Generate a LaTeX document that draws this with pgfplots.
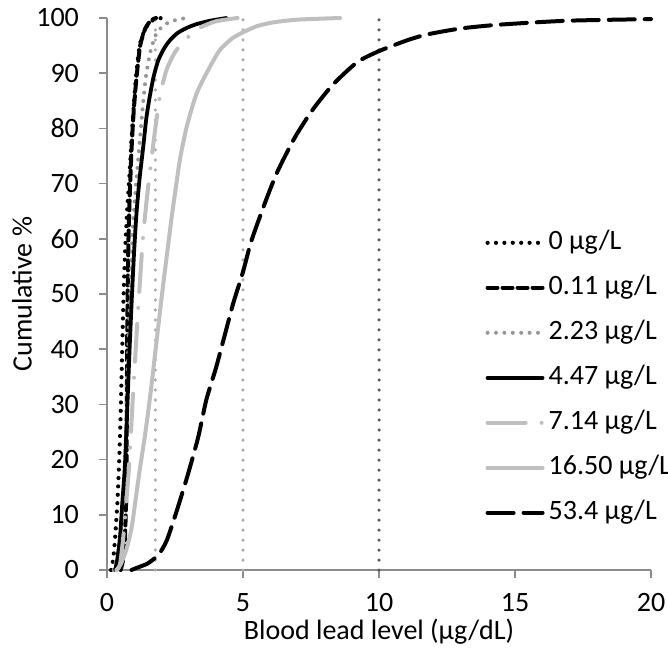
\documentclass[border=0pt]{standalone}
\usepackage{pgfplots}
\pgfplotsset{compat=1.18}
\usepackage{fontspec}
\setmainfont{Carlito}
\definecolor{axisgray}{HTML}{8C8C8C}
\definecolor{midgray}{HTML}{969696}
\definecolor{lgray}{HTML}{BFBFBF}
\definecolor{vgray}{HTML}{ABABAB}
\definecolor{dgray}{HTML}{595959}
\begin{document}
\begin{tikzpicture}[font=\fontsize{14pt}{16pt}\selectfont]
\begin{axis}[
  scale only axis, width=272pt, height=276pt,
  xmin=0, xmax=20, ymin=0, ymax=100,
  xtick distance=5, ytick distance=10,
  axis x line=bottom, axis y line=left,
  axis line style={-, axisgray, line width=0.75pt},
  tick align=outside, major tick length=4pt,
  tick style={axisgray, line width=0.75pt},
  /pgf/number format/assume math mode=true,
  xticklabel style={inner sep=1pt, yshift=-6.5pt},
  yticklabel style={xshift=-6.5pt},
  clip=false,
  xlabel={Blood lead level (µg/dL)},
  ylabel={Cumulative \%},
  xlabel style={at={(axis description cs:0.5,0)}, anchor=center, inner sep=0pt, yshift=-31pt},
  ylabel style={at={(axis description cs:-0.156,0.5)}, anchor=center},
  legend style={draw=none, fill=none, at={(axis cs:13.9,61.7)}, anchor=north west,
    inner sep=0pt, row sep=9.5pt,
    nodes={inner xsep=2pt, inner ysep=0pt, text height=10pt, text depth=3pt}},
  legend cell align=left,
  legend image code/.code={\draw[#1] (0pt,0pt) -- (27.5pt,0pt);},
  every axis plot/.append style={line cap=round, line join=round},
]
% reference lines
\addplot[forget plot, vgray, line width=1.75pt, dash pattern=on 0pt off 5pt] coordinates {(1.78,0) (1.78,100)};
\addplot[forget plot, vgray, line width=1.75pt, dash pattern=on 0pt off 5pt] coordinates {(5,0) (5,100)};
\addplot[forget plot, dgray, line width=1.75pt, dash pattern=on 0pt off 5pt] coordinates {(10,0) (10,100)};
% 0 ug/L
\addplot[black, line width=2.1pt, dash pattern=on 0pt off 4.2pt, smooth, tension=0.4] coordinates {
(0.15,0) (0.2,1) (0.25,3) (0.3,6) (0.38,12) (0.45,20) (0.5,28) (0.55,38) (0.6,48) (0.66,57)
(0.74,65) (0.82,71) (0.9,78) (0.97,83) (1.06,89) (1.2,95) (1.4,98) (1.65,99.5) (2,100)};
\addlegendentry{0 µg/L}
% 0.11 ug/L
\addplot[black, line width=2pt, dash pattern=on 5pt off 2.5pt, smooth, tension=0.4] coordinates {
(0.5,0) (0.6,2) (0.66,6) (0.7,12) (0.72,20) (0.73,30) (0.74,40) (0.76,50) (0.79,60) (0.83,67)
(0.9,76) (0.98,83) (1.08,89) (1.22,95) (1.4,98) (1.6,99.5) (1.8,100)};
\addlegendentry{0.11 µg/L}
% 2.23 ug/L
\addplot[midgray, line width=2pt, dash pattern=on 0pt off 4.2pt, smooth, tension=0.4] coordinates {
(0.25,0) (0.4,3) (0.5,7) (0.6,13) (0.67,20) (0.72,30) (0.78,40) (0.85,50) (0.93,60) (1.02,67)
(1.14,74) (1.28,82) (1.42,89) (1.6,94) (1.85,97.5) (2.3,99.3) (2.9,100)};
\addlegendentry{2.23 µg/L}
% 4.47 ug/L
\addplot[black, line width=1.9pt, smooth, tension=0.4] coordinates {
(0.3,0) (0.38,2) (0.48,6) (0.56,12) (0.66,19) (0.75,30) (0.83,40) (0.91,49) (1.0,58) (1.09,65)
(1.2,71) (1.34,77) (1.45,82) (1.58,86) (1.72,89.5) (1.89,92.4) (2.1,94.5) (2.32,96) (2.6,97.3)
(2.93,98.2) (3.3,98.9) (3.79,99.5) (4.4,100)};
\addlegendentry{4.47 µg/L}
% 7.14 ug/L
\addplot[lgray, line width=2pt, dash pattern=on 19pt off 8pt on 0pt off 8pt, smooth, tension=0.4] coordinates {
(0.35,0) (0.48,1) (0.6,6) (0.72,13) (0.8,18) (0.87,24) (0.97,33) (1.08,42) (1.18,50) (1.32,60)
(1.48,68) (1.6,73) (1.75,79) (1.95,86) (2.19,90.6) (2.5,93.8) (2.93,96.3) (3.4,98.2) (4,99.4) (4.8,100)};
\addlegendentry{7.14 µg/L}
% 16.50 ug/L
\addplot[lgray, line width=2pt, smooth, tension=0.4] coordinates {
(0.35,0) (0.5,1) (0.7,3.5) (0.9,7.5) (1.05,12.7) (1.2,18) (1.4,24.5) (1.6,32) (1.8,40.5) (2.0,49)
(2.2,57) (2.38,64) (2.5,68.2) (2.68,74.3) (2.93,80.3) (3.3,86.4) (3.79,91.2) (4.15,94.2) (4.6,96.3)
(5,97.4) (5.5,98.5) (6.1,99.2) (7,99.7) (8.57,100)};
\addlegendentry{16.50 µg/L}
% 53.4 ug/L
\addplot[black, line width=2pt, dash pattern=on 13pt off 5pt, smooth, tension=0.4] coordinates {
(0.9,0) (1.1,0.4) (1.5,1.2) (1.9,2.8) (2.2,5.4) (2.55,10.5) (2.95,16.9) (3.35,24) (3.65,30.8)
(4.0,36.5) (4.3,42) (4.64,48.3) (5.0,54) (5.3,59.5) (5.8,66.4) (6.25,72) (6.9,78.3) (7.55,83.3)
(8.3,87.9) (9.2,92) (10,94) (11,95.9) (11.75,97) (13,98.1) (14.45,98.8) (16.9,99.5) (20,99.8)};
\addlegendentry{53.4 µg/L}
\end{axis}
\pgfresetboundingbox
\path ([shift={(-53.5pt,-41.5pt)}]current axis.south west) rectangle ([shift={(8.5pt,9pt)}]current axis.north east);
\end{tikzpicture}
\end{document}
